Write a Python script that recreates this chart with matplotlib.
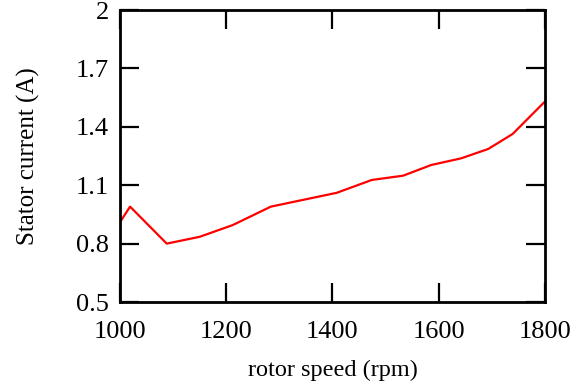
import matplotlib
matplotlib.use('Agg')
import matplotlib.pyplot as plt

plt.rcParams['font.family'] = ['Liberation Serif', 'DejaVu Serif']
plt.rcParams['font.size'] = 19

# rotor speed (rpm) vs stator current (A)
speed = [1000, 1019, 1088, 1150, 1212, 1284, 1408, 1474, 1533, 1586, 1642, 1693, 1739, 1800]
current = [0.91, 0.99, 0.80, 0.835, 0.895, 0.99, 1.061, 1.127, 1.149, 1.204, 1.238, 1.286, 1.363, 1.53]
xticks = [1000, 1200, 1400, 1600, 1800]
yticks = [0.5, 0.8, 1.1, 1.4, 1.7, 2.0]
ylabels = ['0.5', '0.8', '1.1', '1.4', '1.7', '2']

fig = plt.figure(figsize=(5.81, 3.87), dpi=100)
ax = fig.add_axes([0.2065, 0.2196, 0.7315, 0.7545])
ax.plot(speed, current, color='#ff0000', lw=1.6)

ax.set_xlim(1000, 1800)
ax.set_ylim(0.5, 2.0)
ax.set_xticks(xticks)
ax.set_yticks(yticks)
ax.set_yticklabels(ylabels)
ax.tick_params(direction='in', length=14, width=1.6, top=True, right=True)
ax.tick_params(axis='y', pad=8)
ax.tick_params(axis='x', pad=14)
for s in ax.spines.values():
    s.set_linewidth(2)

ax.set_xlabel('rotor speed (rpm)', labelpad=12, fontsize=17.5)
ax.set_ylabel('Stator current (A)', labelpad=26, fontsize=18)

fig.savefig('out.png', dpi=100)
